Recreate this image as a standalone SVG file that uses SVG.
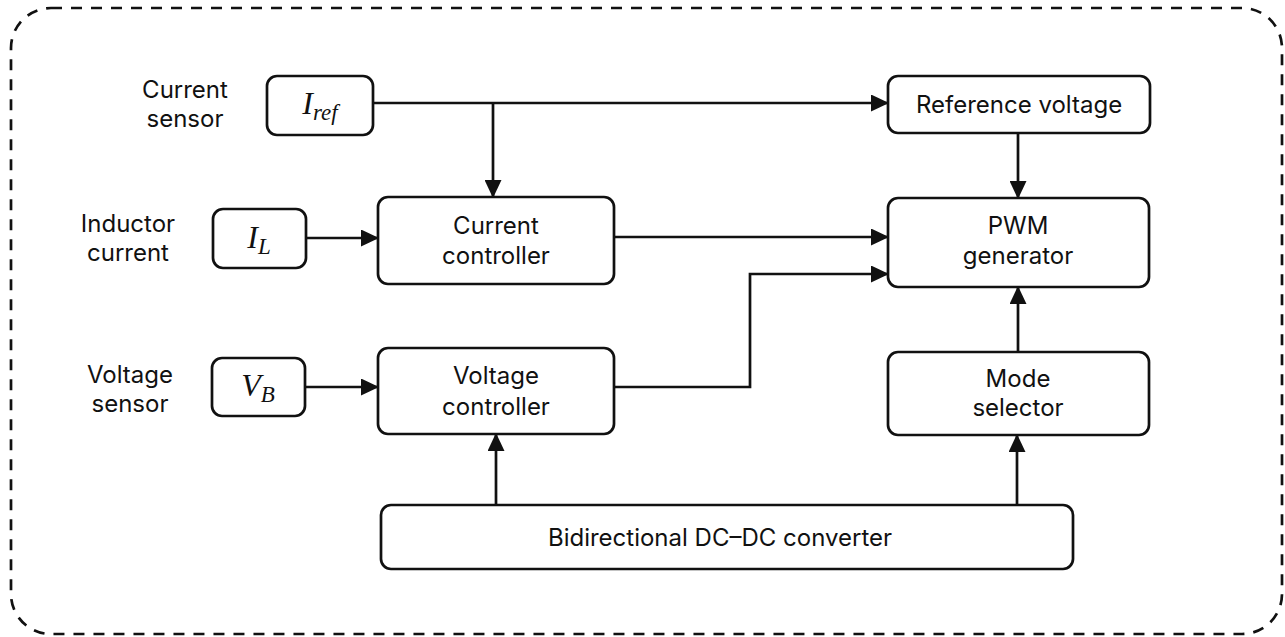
<svg xmlns="http://www.w3.org/2000/svg" width="1285" height="637" viewBox="0 0 1285 637">
<defs>
<marker id="ah" markerUnits="userSpaceOnUse" markerWidth="19" markerHeight="17" refX="17" refY="8.5" orient="auto">
<path d="M0,0 L18,8.5 L0,17 Z" fill="#111"/>
</marker>
<style>
.box{fill:#fff;stroke:#111;stroke-width:2.7}
.lbl{font-family:Inter,"Liberation Sans",sans-serif;font-size:24px;fill:#111;text-anchor:middle}
.math{font-family:"Liberation Serif","Times New Roman",serif;font-style:italic;fill:#111;text-anchor:middle}
.wire{fill:none;stroke:#111;stroke-width:2.7}
.arr{marker-end:url(#ah)}
</style>
</defs>
<rect width="1285" height="637" fill="#fff"/>
<rect x="11" y="8" width="1271" height="626" rx="40" fill="none" stroke="#111" stroke-width="2.7" stroke-dasharray="11 9"/>

<g id="label-current-sensor"><text class="lbl" x="185" y="98">Current</text><text class="lbl" x="185" y="127">sensor</text></g>
<g id="label-inductor-current"><text class="lbl" x="128" y="232">Inductor</text><text class="lbl" x="128" y="261">current</text></g>
<g id="label-voltage-sensor"><text class="lbl" x="130" y="383">Voltage</text><text class="lbl" x="130" y="412">sensor</text></g>

<g id="iref"><rect class="box" x="267" y="76" width="106" height="59" rx="10"/><text class="math" x="320" y="114" font-size="32">I<tspan font-size="23" dy="6">ref</tspan></text></g>
<g id="il"><rect class="box" x="213" y="209" width="93" height="59" rx="10"/><text class="math" x="259" y="248" font-size="32">I<tspan font-size="23" dy="6">L</tspan></text></g>
<g id="vb"><rect class="box" x="212" y="358" width="93" height="58" rx="10"/><text class="math" x="258" y="396" font-size="32">V<tspan font-size="23" dy="6">B</tspan></text></g>

<g id="current-controller"><rect class="box" x="378" y="197" width="236" height="87" rx="10"/><text class="lbl" x="496" y="234">Current</text><text class="lbl" x="496" y="264">controller</text></g>
<g id="voltage-controller"><rect class="box" x="378" y="348" width="236" height="86" rx="10"/><text class="lbl" x="496" y="384">Voltage</text><text class="lbl" x="496" y="415">controller</text></g>
<g id="reference-voltage"><rect class="box" x="888" y="76" width="262" height="57" rx="10"/><text class="lbl" x="1019" y="113">Reference voltage</text></g>
<g id="pwm-generator"><rect class="box" x="888" y="198" width="261" height="89" rx="10"/><text class="lbl" x="1018" y="234">PWM</text><text class="lbl" x="1018" y="264">generator</text></g>
<g id="mode-selector"><rect class="box" x="888" y="352" width="261" height="83" rx="10"/><text class="lbl" x="1018" y="387">Mode</text><text class="lbl" x="1018" y="416">selector</text></g>
<g id="dcdc"><rect class="box" x="381" y="505" width="692" height="64" rx="10"/><text class="lbl" x="720" y="546">Bidirectional DC–DC converter</text></g>

<g id="connectors">
<path class="wire arr" d="M373,103 H888"/>
<path class="wire arr" d="M493,103 V197"/>
<path class="wire arr" d="M306,238 H378"/>
<path class="wire arr" d="M305,387 H378"/>
<path class="wire arr" d="M614,237 H888"/>
<path class="wire arr" d="M614,387 H750 V274 H888"/>
<path class="wire arr" d="M1018,133 V198"/>
<path class="wire arr" d="M1018,352 V287"/>
<path class="wire arr" d="M496,505 V434"/>
<path class="wire arr" d="M1017,505 V435"/>
</g>
</svg>
